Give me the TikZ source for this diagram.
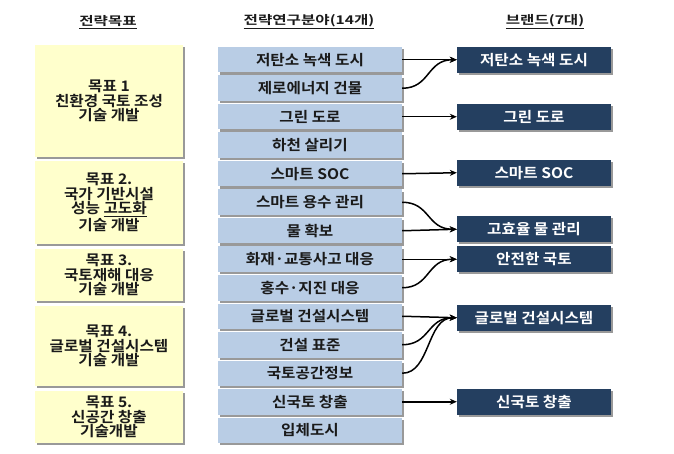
\documentclass[tikz,border=0pt]{standalone}
\usepackage{fontspec}
\setmainfont{Noto Sans CJK KR}[BoldFont={Noto Sans CJK KR Bold}]
\usetikzlibrary{shadows,arrows.meta,calc}
\definecolor{goalfill}{HTML}{FFFFCC}
\definecolor{areafill}{HTML}{B9CDE5}
\definecolor{brandfill}{HTML}{243F60}
\definecolor{txt}{HTML}{1A1A1A}
\tikzset{
  boxbase/.style={rectangle, inner sep=0pt, align=center, font=\bfseries\fontsize{14.5}{14.5}\selectfont\addfontfeature{FakeStretch=1.08},
    drop shadow={shadow xshift=2.2pt, shadow yshift=-2.2pt, fill=black!40, opacity=1}},
  goal/.style={boxbase, fill=goalfill, text=txt, minimum width=148pt},
  area/.style={boxbase, fill=areafill, text=txt, minimum width=184pt, minimum height=25.5pt},
  brand/.style={boxbase, fill=brandfill, text=white, minimum width=154pt, minimum height=26pt},
  hdr/.style={font=\bfseries\fontsize{12}{14}\selectfont\addfontfeature{FakeStretch=1.3}, text=txt, inner sep=0pt},
  conn/.style={line width=1.5pt, -{Stealth[length=7pt,width=6pt]}, black}
}
\begin{document}
\begin{tikzpicture}[x=1pt,y=-1pt]
\useasboundingbox (0,0) rectangle (674,454);
% headers
\node[hdr] (h1) at (108,22) {\underline{전략목표}};
\node[hdr] (h2) at (309,22) {\underline{전략연구분야(14개)}};
\node[hdr] (h3) at (545,22) {\underline{브랜드(7대)}};
% goals
\node[goal, minimum height=112pt] (g1) at (109,101) {목표 1\\친환경 국토 조성\\기술 개발};
\node[goal, minimum height=83pt] (g2) at (109,202.5) {목표 2.\\국가 기반시설\\성능 \underline{고도화}\\기술 개발};
\node[goal, minimum height=52pt] (g3) at (109,275) {목표 3.\\국토재해 대응\\기술 개발};
\node[goal, minimum height=80pt] (g4) at (109,346) {목표 4.\\글로벌 건설시스템\\기술 개발};
\node[goal, minimum height=52pt] (g5) at (109,417) {목표 5.\\신공간 창출\\기술개발};
% areas
\foreach \i/\t in {0/저탄소 녹색 도시,1/제로에너지 건물,2/그린 도로,3/하천 살리기,4/스마트 SOC,5/스마트 용수 관리,6/물 확보,7/화재·교통사고 대응,8/홍수·지진 대응,9/글로벌 건설시스템,10/건설 표준,11/국토공간정보,12/신국토 창출,13/입체도시}
  \node[area] (a\i) at (310,{59.75+28.5*\i}) {\t};
% brands
\node[brand] (b0) at (534,59.75) {저탄소 녹색 도시};
\node[brand] (b2) at (534,116.75) {그린 도로};
\node[brand] (b4) at (534,172.75) {스마트 SOC};
\node[brand] (b6) at (534,229.25) {고효율 물 관리};
\node[brand] (b7) at (534,259.25) {안전한 국토};
\node[brand] (b9) at (534,317.75) {글로벌 건설시스템};
\node[brand] (b12) at (534,401.75) {신국토 창출};
% connectors
\foreach \s/\d in {0/0,2/2,4/4,6/6,7/7,9/9,12/12}
  \draw[conn] (a\s.east) -- (b\d.west);
\foreach \s/\d in {1/0,5/6,8/7,10/9,11/9}
  \draw[conn] (a\s.east) .. controls ($(a\s.east)+(28,0)$) and ($(b\d.west)+(-30,0)$) .. (b\d.west);
\end{tikzpicture}
\end{document}
